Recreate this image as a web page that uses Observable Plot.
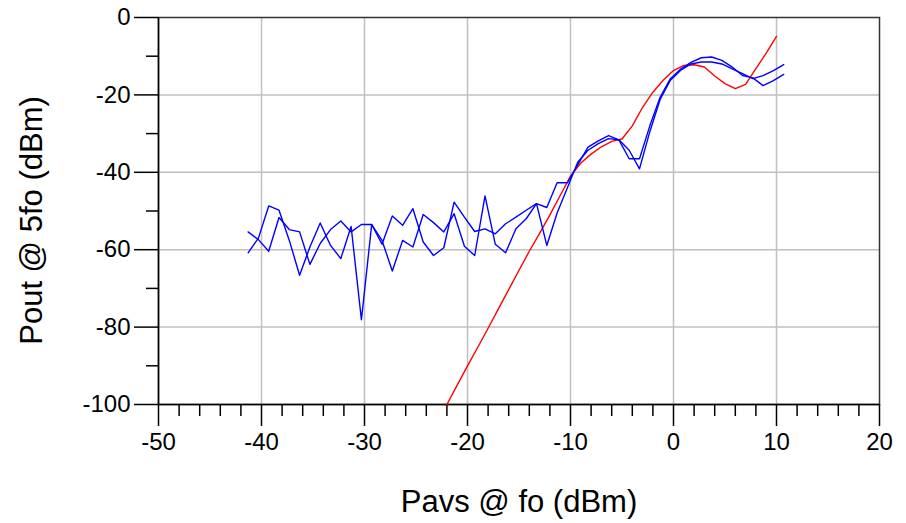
<!DOCTYPE html>
<html><head><meta charset="utf-8">
<script src="https://cdn.jsdelivr.net/npm/d3@7"></script>
<script src="https://cdn.jsdelivr.net/npm/@observablehq/plot@0.6"></script>
<style>html,body{margin:0;padding:0;background:#fff;} svg{display:block;}</style>
</head><body><div id="chart"></div>
<script>
const pavsBlue = [-41.3,-40.3,-39.3,-38.3,-37.3,-36.3,-35.3,-34.3,-33.3,-32.3,-31.3,-30.3,-29.3,-28.3,-27.3,-26.3,-25.3,-24.3,-23.3,-22.3,-21.3,-20.3,-19.3,-18.3,-17.3,-16.3,-15.3,-14.3,-13.3,-12.3,-11.3,-10.3,-9.3,-8.3,-7.3,-6.3,-5.3,-4.3,-3.3,-2.3,-1.3,-0.3,0.7,1.7,2.7,3.7,4.7,5.7,6.7,7.7,8.7,9.7,10.7];
const poutBlue1 = [-55.4,-57.4,-60.4,-51.7,-54.8,-55.4,-63.8,-58.4,-54.8,-52.6,-55.4,-53.5,-53.5,-58.6,-51.3,-53.7,-49.4,-58.0,-61.5,-59.5,-47.7,-51.6,-55.3,-54.6,-55.9,-53.3,-51.6,-49.8,-48.1,-49.1,-42.7,-42.7,-38.1,-33.5,-31.9,-30.5,-31.6,-36.5,-36.5,-28.0,-20.6,-15.8,-13.3,-11.6,-10.4,-10.2,-11.1,-12.8,-15.0,-15.6,-17.6,-16.3,-14.7];
const poutBlue2 = [-60.8,-57.0,-48.7,-49.8,-57.6,-66.6,-59.3,-53.1,-58.9,-62.3,-54.0,-78.1,-53.5,-57.6,-65.5,-57.6,-59.3,-50.9,-53.0,-55.4,-50.7,-59.1,-61.5,-46.1,-58.6,-60.8,-54.6,-52.0,-48.1,-58.9,-50.5,-44.0,-37.4,-34.3,-32.6,-31.3,-31.6,-34.3,-39.1,-29.5,-21.2,-16.2,-13.6,-12.0,-11.5,-11.5,-12.0,-13.3,-14.5,-15.8,-15.0,-13.7,-12.2];
const pavsRed = [-22,-21,-20,-19,-18,-17,-16,-15,-14,-13,-12,-11,-10,-9,-8,-7,-6,-5,-4,-3,-2,-1,0,1,2,3,4,5,6,7,8,9,10];
const poutRed = [-100,-95,-90,-85.2,-80.3,-75.3,-70.3,-65.3,-60.4,-55.8,-51,-46,-41,-37.6,-35.3,-33.4,-32,-31.4,-28,-23.2,-19.3,-16.2,-13.7,-12.4,-12.2,-12.8,-15.1,-17.1,-18.4,-17.3,-13.2,-9.2,-4.9];
const xMajorTicks = [-50,-40,-30,-20,-10,0,10,20];
const xMinorTicks = [-48,-46,-44,-42,-38,-36,-34,-32,-28,-26,-24,-22,-18,-16,-14,-12,-8,-6,-4,-2,2,4,6,8,12,14,16,18];
const yMajorTicks = [0,-20,-40,-60,-80,-100];
const yMinorTicks = [-10,-30,-50,-70,-90];
const xGrid = [-40,-30,-20,-10,0,10];
const yGrid = [-20,-40,-60,-80];
const xTitle = "Pavs @ fo (dBm)";
const yTitle = "Pout @ 5fo (dBm)";

const blue1 = pavsBlue.map((x, i) => ({x, y: poutBlue1[i]}));
const blue2 = pavsBlue.map((x, i) => ({x, y: poutBlue2[i]}));
const red = pavsRed.map((x, i) => ({x, y: poutRed[i]}));
const fmt = d => String(d);

const chart = Plot.plot({
  width: 906, height: 523,
  marginLeft: 158, marginRight: 27, marginTop: 17, marginBottom: 119,
  style: {fontFamily: "'Liberation Sans', Arial, sans-serif", background: "#fff", color: "#000"},
  x: {domain: [-50, 20]},
  y: {domain: [-100, 0]},
  marks: [
    Plot.gridX(xGrid, {stroke: "#c0c0c0", strokeOpacity: 1, strokeWidth: 1.5}),
    Plot.gridY(yGrid, {stroke: "#c0c0c0", strokeOpacity: 1, strokeWidth: 1.5}),
    Plot.frame({stroke: "#333", strokeWidth: 1.5}),
    Plot.ruleX([-50], {stroke: "#000", strokeWidth: 1.5}),
    Plot.ruleY([-100], {stroke: "#000", strokeWidth: 1.5}),
    Plot.axisX(xMajorTicks, {tickSize: 22, tickPadding: 6, tickFormat: fmt, fontSize: 24, label: null, strokeWidth: 1.5}),
    Plot.axisX(xMinorTicks, {tickSize: 12, tickFormat: () => "", label: null, strokeWidth: 1.5}),
    Plot.axisY(yMajorTicks, {tickSize: 24, tickPadding: 4, tickFormat: fmt, fontSize: 24, label: null, strokeWidth: 1.5}),
    Plot.axisY(yMinorTicks, {tickSize: 12, tickFormat: () => "", label: null, strokeWidth: 1.5}),
    Plot.line(red, {x: "x", y: "y", stroke: "#ff0000", strokeWidth: 1.4}),
    Plot.line(blue1, {x: "x", y: "y", stroke: "#0000ff", strokeWidth: 1.4}),
    Plot.line(blue2, {x: "x", y: "y", stroke: "#0000ff", strokeWidth: 1.4}),
    Plot.text([xTitle], {frameAnchor: "bottom", textAnchor: "middle", lineAnchor: "middle", dy: 98, fontSize: 31, fill: "#000"}),
    Plot.text([yTitle], {frameAnchor: "left", textAnchor: "middle", lineAnchor: "middle", rotate: -90, dx: -126, dy: 9.5, fontSize: 31, fill: "#000"})
  ]
});
document.getElementById("chart").appendChild(chart);
</script>
</body></html>
